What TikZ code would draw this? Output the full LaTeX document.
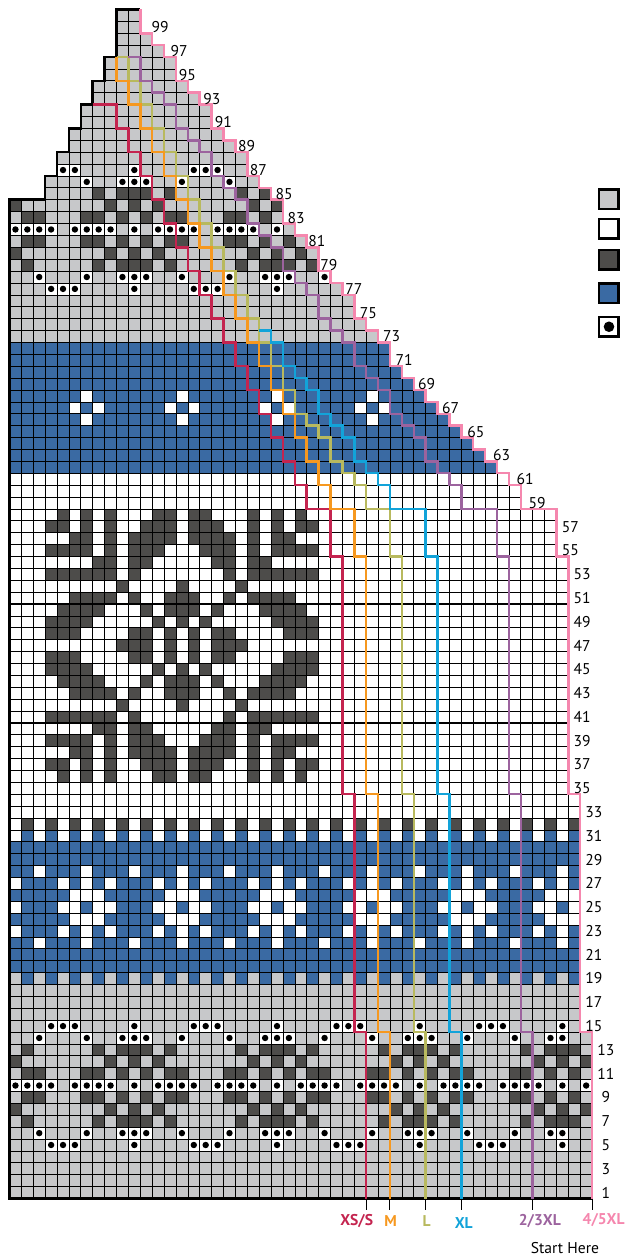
\documentclass[tikz,border=0pt]{standalone}
\usepackage{fontspec}
\setmainfont{PT Sans}
\usetikzlibrary{positioning}
\definecolor{yarngray}{HTML}{C7C8CA}
\definecolor{yarndark}{HTML}{4D4C4A}
\definecolor{yarnblue}{HTML}{3A6AA3}
\definecolor{sizexs}{HTML}{C4244F}
\definecolor{sizem}{HTML}{F6981F}
\definecolor{sizel}{HTML}{B8B95E}
\definecolor{sizexl}{HTML}{12A3D9}
\definecolor{sizetwo}{HTML}{9C639E}
\definecolor{sizefour}{HTML}{F587AE}
% one cell of the chart is one unit
\newcommand{\cells}[3]{\foreach \r in {#2}{\foreach \c in {#3}{\fill[#1] (\c,\r-1) rectangle ++(1,1);}}}
\newcommand{\stitches}[2]{\foreach \r in {#1}{\foreach \c in {#2}{
  \fill[white] (\c,\r-1) rectangle ++(1,1);
  \fill[black] (\c+.5,\r-.5) circle (.27);}}}
\newcommand{\leftedge}{--(0,84)-|(3,86)-|(4,88)-|(5,90)-|(6,92)-|(7,94)-|(8,96)-|(9,100)--(11,100)}
\newcommand{\rightedge}{|-(12,98)|-(13,97)|-(14,96)|-(15,94)|-(16,93)|-(17,92)|-(18,90)|-(19,89)|-(20,88)|-(21,86)|-(22,85)|-(23,84)|-(24,82)|-(25,81)|-(26,80)|-(27,78)|-(28,77)|-(29,76)|-(30,74)|-(31,73)|-(32,72)|-(33,70)|-(34,69)|-(35,68)|-(36,67)|-(37,66)|-(38,65)|-(39,64)|-(40,63)|-(41,62)|-(42,61)|-(43,60)|-(46,58)|-(47,54)|-(48,34)|-(49,14)--(49,0)}

\begin{document}
\begin{tikzpicture}[
  x=.3cm,y=.3cm,
  sizeline/.style={line width=1.8pt,line join=miter},
  tickline/.style={black,line width=.7pt},
  rownum/.style={font=\fontsize{11.2}{12}\selectfont,text=black,inner sep=0pt},
  sizelabel/.style={font=\fontsize{11.2}{12}\selectfont\bfseries,inner sep=0pt},
  legendkey/.style={draw=black,line width=1.8pt,minimum size=14pt,inner sep=0pt,outer sep=.9pt}
]
  \useasboundingbox (-.799,-4.836) rectangle (51.77,100.8);
  \begin{scope}
    \clip (0,0) \leftedge \rightedge -- cycle;
    % colour bands
    \fill[yarngray] (0,0) rectangle (49,100);
    \fill[yarnblue] (0,19) rectangle (49,30);
    \fill[white] (0,30) rectangle (49,61);
    \fill[yarnblue] (0,61) rectangle (49,72);
    % stripes
    \cells{yarnblue}{19,31}{1,3,...,47}
    \cells{yarndark}{32}{1,3,...,47}
    % blue band snowflakes
    \cells{white}{28,22}{2,6,10,14,18,22,26,30,34,38,42,46}
    \cells{white}{27,23}{0,4,6,8,12,14,16,20,22,24,28,30,32,36,38,40,44,46}
    \cells{white}{26,24}{5,6,7,13,14,15,21,22,23,29,30,31,37,38,39,45,46,47}
    \cells{white}{25}{0,4,5,7,8,12,13,15,16,20,21,23,24,28,29,31,32,36,37,39,40,44,45,47}
    \cells{white}{68,66}{6,14,22,30}
    \cells{white}{67}{5,7,13,15,21,23,29,31}
    % large star
    \cells{yarndark}{58,36}{4,6,8,12,13,15,16,20,22,24}
    \cells{yarndark}{57,37}{3,4,6,8,11,12,13,15,16,17,20,22,24,25}
    \cells{yarndark}{56,38}{5,6,8,10,11,12,13,15,16,17,18,20,22,23}
    \cells{yarndark}{55,39}{3,4,5,6,8,10,11,12,16,17,18,20,22,23,24,25}
    \cells{yarndark}{54,40}{7,8,10,11,17,18,20,21}
    \cells{yarndark}{53,41}{3,4,5,6,7,8,10,18,20,21,22,23,24,25}
    \cells{yarndark}{52,42}{9,14,19}
    \cells{yarndark}{51,43}{5,6,7,8,10,13,14,15,18,20,21,22,23}
    \cells{yarndark}{50,44}{4,5,6,7,11,13,14,15,17,21,22,23,24}
    \cells{yarndark}{49,45}{3,4,5,6,12,14,16,22,23,24,25}
    \cells{yarndark}{48,46}{3,4,5,10,11,13,15,17,18,23,24,25}
    \cells{yarndark}{47}{9,10,11,13,15,17,18,19}
    % gray band pattern
    \cells{yarndark}{7,13,79,85}{1,7,9,10,11,13,19,21,22,23,25,31,33,34,35,37,43,45,46,47}
    \cells{yarndark}{8,12,80,84}{0,8,10,12,20,22,24,32,34,36,44,46,48}
    \cells{yarndark}{9,11,81,83}{1,2,6,7,9,11,13,14,18,19,21,23,25,26,30,31,33,35,37,38,42,43,45,47}
    \stitches{5,15,87}{3,4,5,10,15,16,17,22,27,28,29,34,39,40,41,46}
    \stitches{6,14,78,86}{2,6,9,10,11,14,18,21,22,23,26,30,33,34,35,38,42,45,46}
    \stitches{10,82}{0,1,2,3,5,6,7,8,10,12,13,14,15,17,18,19,20,22,24,25,26,27,29,30,31,32,34,36,37,38,39,41,42,43,44,46,48}
    \stitches{77}{3,4,5,10,15,16,17,22}
    % grid, heavier every ten
    \draw[black,line width=.5pt,step=1] (0,0) grid (49,100);
    \foreach \c in {9,19,29,39} \draw[black,line width=.75pt] (\c,0) -- (\c,100);
    \foreach \r in {10,20,...,90} \draw[black,line width=.75pt] (0,\r) -- (49,\r);
  \end{scope}
  \draw[black,line width=1.8pt,line join=miter] (49,0) -- (0,0) \leftedge;
  % size lines
  \draw[sizeline,sizexs] (7,92)--(9,92)|-(10,90)|-(11,88)|-(12,86)|-(13,84)|-(14,82)|-(15,80)|-(16,78)|-(17,76)|-(18,74)|-(19,72)|-(20,70)|-(21,68)|-(22,66)|-(23,64)|-(24,62)|-(25,60)|-(27,58)|-(28,54)|-(29,34)|-(30,14)--(30,0);
  \draw[sizeline,sizel] (9,96)--(10,96)|-(11,94)|-(12,92)|-(13,90)|-(14,88)|-(15,86)|-(16,84)|-(17,82)|-(18,80)|-(19,78)|-(20,76)|-(21,74)|-(22,72)|-(23,70)|-(24,68)|-(25,66)|-(26,65)|-(27,64)|-(28,62)|-(29,61)|-(30,60)|-(32,58)|-(33,54)|-(34,34)|-(35,14)--(35,0);
  \draw[sizeline,sizem] (9,96)|-(10,94)|-(11,92)|-(12,90)|-(13,88)|-(14,86)|-(15,84)|-(16,82)|-(17,80)|-(18,78)|-(19,76)|-(20,74)|-(21,72)|-(22,70)|-(23,68)|-(24,66)|-(25,64)|-(26,62)|-(27,60)|-(29,58)|-(30,54)|-(31,34)|-(32,14)--(32,0);
  \draw[sizeline,sizexl] (21,73)--(22,73)|-(23,72)|-(24,70)|-(25,69)|-(26,68)|-(27,66)|-(28,65)|-(29,64)|-(30,62)|-(31,61)|-(32,60)|-(35,58)|-(36,54)|-(37,34)|-(38,14)--(38,0);
  \draw[sizeline,sizetwo] (10,96)--(11,96)|-(12,94)|-(13,93)|-(14,92)|-(15,90)|-(16,89)|-(17,88)|-(18,86)|-(19,85)|-(20,84)|-(21,82)|-(22,81)|-(23,80)|-(24,78)|-(25,77)|-(26,76)|-(27,74)|-(28,73)|-(29,72)|-(30,70)|-(31,69)|-(32,68)|-(33,66)|-(34,65)|-(35,64)|-(36,62)|-(37,61)|-(38,60)|-(41,58)|-(42,54)|-(43,34)|-(44,14)--(44,0);
  \draw[sizeline,sizefour] (11,100) \rightedge;
  % ticks under the chart
  \foreach \c in {30,32,35,38,44,49} \draw[tickline] (\c,0) -- (\c,-1);
  \node[sizelabel,text=sizexs] (labelxs) at (29.2,-1.87) {XS/S};
  \node[sizelabel,text=sizem] (labelm) at (32.06,-1.87) {M};
  \node[sizelabel,text=sizel] (labell) at (35.09,-1.87) {L};
  \node[sizelabel,text=sizexl] (labelxl) at (38.2,-2.04) {XL};
  \node[sizelabel,text=sizetwo] (labeltwo) at (44.6,-1.87) {2/3XL};
  \node[sizelabel,text=sizefour] (labelfour) at (49.97,-1.81) {4/5XL};
  \node[rownum] (start) at (46.72,-4.16) {Start Here};
  % row numbers
  \foreach \num/\xpos in {99/12.66,97/14.26,95/14.95,93/17.03,91/17.98,89/19.95,87/20.93,85/23.1,83/24.1,
    81/25.86,79/26.87,77/28.97,75/30.18,73/32.14,71/33.18,69/35.09,67/37.1,65/39.23,63/41.4,61/43.36,
    59/44.37,57/47.17,55/47.17}
    \node[rownum] (row\num) at (\xpos,\num-.5) {\num};
  \foreach \num in {53,51,...,35} \node[rownum] (row\num) at (48.15,\num-.5) {\num};
  \foreach \num in {33,31,...,15} \node[rownum] (row\num) at (49.15,\num-.5) {\num};
  \foreach \num in {13,11,...,1} \node[rownum] (row\num) at (50.15,\num-.5) {\num};
  % legend
  \node[legendkey,fill=yarngray] (keygray) at (50.42,84.06) {};
  \node[legendkey,fill=white,below=5.7pt of keygray] (keywhite) {};
  \node[legendkey,fill=yarndark,below=6.4pt of keywhite] (keydark) {};
  \node[legendkey,fill=yarnblue,below=8.2pt of keydark] (keyblue) {};
  \node[legendkey,fill=white,below=8.2pt of keyblue] (keydot) {};
  \fill[black] (keydot.center) circle (3.8pt);
\end{tikzpicture}
\end{document}
